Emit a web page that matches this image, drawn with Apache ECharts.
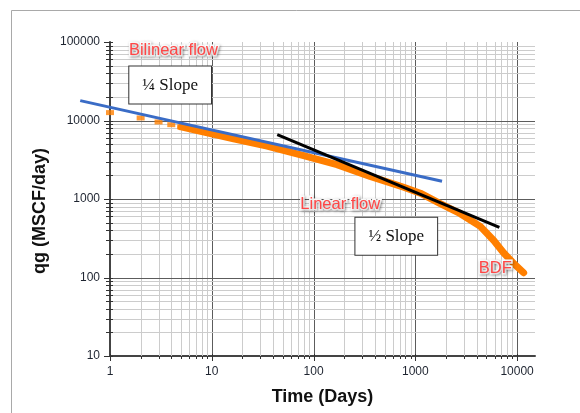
<!DOCTYPE html>
<html>
<head>
<meta charset="utf-8">
<style>
  html, body { margin: 0; padding: 0; background: #fff; }
  #chart { width: 580px; height: 413px; }
</style>
<script src="https://cdn.jsdelivr.net/npm/echarts@6/dist/echarts.min.js"></script>
</head>
<body>
<div id="chart"></div>
<script>
// rate data (days, MSCF/day)
const earlyDays = [1, 2, 3, 4, 5];
const earlyRate = [12600, 10770, 9580, 8850, 8280];
const bandDays = [5, 7.8, 16.4, 35, 80, 170, 360, 770, 1120, 1760, 2770, 4350, 5900, 7400, 9300, 11600];
const bandRate = [8280, 7260, 5840, 4730, 3580, 2735, 1940, 1410, 1186, 871, 650, 448, 296, 205, 150, 115];

// straight-line fits drawn on the chart
const quarterDays = [0.51, 1830];
const quarterRate = [17900, 1680];
const halfDays = [44, 6700];
const halfRate = [6600, 435];

// axis decades
const xMajor = [1, 10, 100, 1000, 10000];
const yMajor = [10, 100, 1000, 10000, 100000];
const minorSteps = [2, 3, 4, 5, 6, 7, 8, 9];
const X_MIN = 1, X_MAX = 15000, Y_MIN = 10, Y_MAX = 100000;

const FONT = "'Liberation Sans', Arial, sans-serif";
const ORANGE = "#ff7f00";

const zip = (xs, ys) => xs.map((x, i) => [x, ys[i]]);

// [x, y, vertical?, major?, drawGridLine?]
const guides = [];
xMajor.forEach((d, i) => {
  guides.push([d, Y_MIN, 1, 1, i > 0 ? 1 : 0]);
  if (d < X_MAX / 1.5) minorSteps.forEach((m) => guides.push([d * m, Y_MIN, 1, 0, 1]));
});
yMajor.forEach((d, i) => {
  guides.push([X_MIN, d, 0, 1, i > 0 && d < Y_MAX ? 1 : 0]);
  if (d < Y_MAX) minorSteps.forEach((m) => guides.push([X_MIN, d * m, 0, 0, 1]));
});

function renderGuide(params, api) {
  const vertical = api.value(2) === 1;
  const major = api.value(3) === 1;
  const withLine = api.value(4) === 1;
  const gridColor = major ? "#5c5c5c" : "#cccccc";
  const children = [];
  if (vertical) {
    const a = api.coord([api.value(0), Y_MIN]);
    const b = api.coord([api.value(0), Y_MAX]);
    const x = Math.round(a[0]) + 0.5;
    if (withLine) {
      children.push({ type: "line", shape: { x1: x, y1: a[1], x2: x, y2: b[1] }, style: { stroke: gridColor, lineWidth: 1 } });
    }
    children.push({ type: "line", shape: { x1: x, y1: a[1] - (major ? 2 : 0), x2: x, y2: a[1] + (major ? 5 : 3) }, style: { stroke: "#333", lineWidth: 1 } });
  } else {
    const a = api.coord([X_MIN, api.value(1)]);
    const b = api.coord([X_MAX, api.value(1)]);
    const y = Math.round(a[1]) + 0.5;
    if (withLine) {
      children.push({ type: "line", shape: { x1: a[0], y1: y, x2: b[0], y2: y }, style: { stroke: gridColor, lineWidth: 1 } });
    }
    children.push({ type: "line", shape: { x1: a[0] - (major ? 6 : 4), y1: y, x2: a[0] + 3, y2: y }, style: { stroke: "#333", lineWidth: 1 } });
  }
  return { type: "group", children };
}

// the 1/4 slope line starts left of the y axis, where the log axis won't place it,
// so map x through the axis decade length instead
function toPixel(api, x, y) {
  const a = api.coord([X_MIN, y]);
  const b = api.coord([X_MIN * 10, y]);
  return [a[0] + Math.log10(x / X_MIN) * (b[0] - a[0]), a[1]];
}

function renderSegment(params, api) {
  const p0 = toPixel(api, api.value(0), api.value(1));
  const p1 = toPixel(api, api.value(2), api.value(3));
  return {
    type: "line",
    shape: { x1: p0[0], y1: p0[1], x2: p1[0], y2: p1[1] },
    style: { stroke: "#3a6cc6", lineWidth: 3 },
  };
}

const redNote = {
  show: true,
  position: "inside",
  formatter: "{b}",
  color: "#ff4646",
  fontFamily: FONT,
  fontSize: 16.5,
  textBorderColor: "#fff",
  textBorderWidth: 3,
  textShadowColor: "rgba(0,0,0,0.35)",
  textShadowBlur: 3,
  textShadowOffsetX: 1,
  textShadowOffsetY: 1,
};

const boxNote = {
  show: true,
  position: "inside",
  formatter: "{b}",
  color: "#111",
  fontFamily: "'Liberation Serif', 'Times New Roman', serif",
  fontSize: 17,
  lineHeight: 19,
  backgroundColor: "#fff",
  borderColor: "#333",
  borderWidth: 1,
  padding: [9, 13],
};

const chart = echarts.init(document.getElementById("chart"), null, { renderer: "canvas" });

chart.setOption({
  animation: false,
  backgroundColor: "#fff",
  graphic: [
    {
      type: "rect",
      z: -10,
      shape: { x: 11.5, y: 10.5, width: 640, height: 480 },
      style: { fill: null, stroke: "#a9a9a9", lineWidth: 1 },
    },
  ],
  grid: { left: 110, right: 45, top: 42, bottom: 57, outerBoundsMode: "none" },
  xAxis: {
    type: "log",
    logBase: 10,
    min: X_MIN,
    max: X_MAX,
    name: "Time (Days)",
    nameLocation: "middle",
    nameGap: 32,
    nameTextStyle: { fontFamily: FONT, fontSize: 18, fontWeight: "bold", color: "#111" },
    axisLine: { lineStyle: { color: "#444", width: 2 } },
    axisTick: { show: false },
    splitLine: { show: false },
    axisLabel: {
      margin: 10,
      fontFamily: FONT,
      fontSize: 12,
      color: "#1e2430",
      showMaxLabel: false,
      formatter: (v) => {
        const l = Math.log10(v);
        return Math.abs(l - Math.round(l)) < 1e-6 ? String(Math.round(v)) : "";
      },
    },
  },
  yAxis: {
    type: "log",
    logBase: 10,
    min: Y_MIN,
    max: Y_MAX,
    name: "qg (MSCF/day)",
    nameLocation: "middle",
    nameGap: 60,
    nameTextStyle: { fontFamily: FONT, fontSize: 18, fontWeight: "bold", color: "#111", padding: [0, 24, 0, 0] },
    axisLine: { lineStyle: { color: "#444", width: 2 } },
    axisTick: { show: false },
    splitLine: { show: false },
    axisLabel: {
      margin: 10,
      fontFamily: FONT,
      fontSize: 12,
      color: "#1e2430",
      formatter: (v) => String(Math.round(v)),
    },
  },
  series: [
    {
      name: "guides",
      type: "custom",
      z: 1,
      silent: true,
      renderItem: renderGuide,
      encode: { x: 0, y: 1 },
      data: guides,
    },
    {
      name: "qg early",
      type: "scatter",
      z: 3,
      symbol: "rect",
      symbolSize: [8, 5],
      itemStyle: { color: ORANGE },
      data: zip(earlyDays, earlyRate),
    },
    {
      name: "qg",
      type: "line",
      z: 3,
      showSymbol: false,
      lineStyle: { color: ORANGE, width: 7, cap: "round", join: "round" },
      data: zip(bandDays, bandRate),
    },
    {
      name: "1/4 slope",
      type: "custom",
      z: 4,
      clip: false,
      silent: true,
      renderItem: renderSegment,
      encode: { x: [0, 2], y: [1, 3] },
      data: [[quarterDays[0], quarterRate[0], quarterDays[1], quarterRate[1]]],
    },
    {
      name: "1/2 slope",
      type: "line",
      z: 5,
      showSymbol: false,
      lineStyle: { color: "#000", width: 3 },
      data: zip(halfDays, halfRate),
      markPoint: {
        silent: true,
        symbol: "rect",
        symbolSize: 0,
        data: [
          { name: "Bilinear flow", coord: [4.2, 77400], label: redNote },
          { name: "¼ Slope", coord: [3.9, 28300], label: boxNote },
          { name: "Linear flow", coord: [183, 846], label: redNote },
          { name: "½ Slope", coord: [650, 336], label: boxNote },
          { name: "BDF", coord: [6100, 129], label: redNote },
        ],
      },
    },
  ],
});
</script>
</body>
</html>
